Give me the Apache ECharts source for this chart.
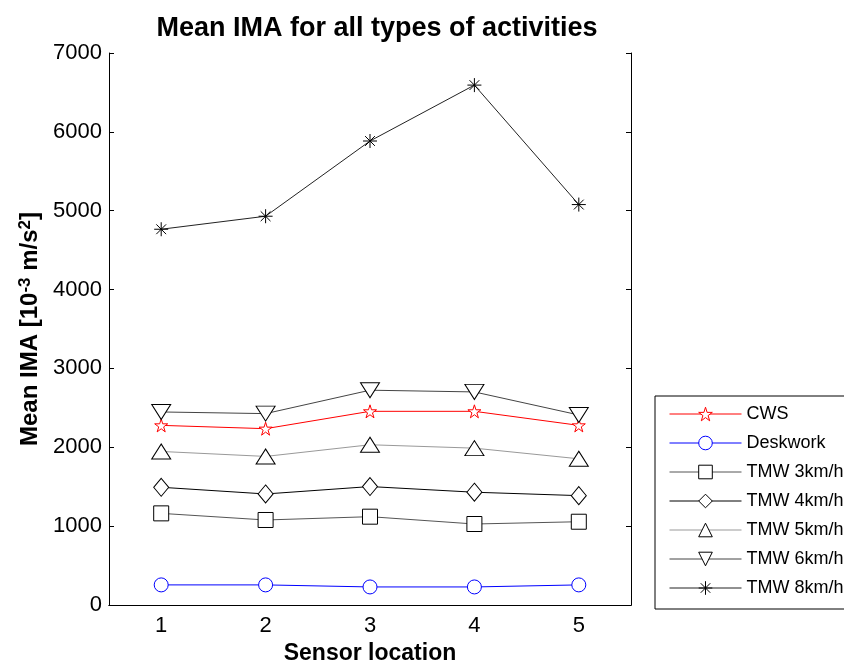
<!DOCTYPE html>
<html>
<head>
<meta charset="utf-8">
<script src="https://cdn.jsdelivr.net/npm/echarts@6/dist/echarts.min.js"></script>
<style>
  html, body { margin: 0; padding: 0; background: #fff; }
  #main { width: 844px; height: 663px; }
</style>
</head>
<body>
<div id="main"></div>
<script>
// sensor locations on the x axis
var locations = ['1', '2', '3', '4', '5'];

// mean IMA per activity
var cws      = [2278, 2236, 2456, 2456, 2278];
var deskwork = [255, 255, 229, 229, 255];
var tmw3     = [1162, 1078, 1120, 1027, 1056];
var tmw4     = [1493, 1408, 1502, 1430, 1387];
var tmw5     = [1947, 1884, 2032, 1989, 1854];
var tmw6     = [2448, 2427, 2724, 2702, 2410];
var tmw8     = [4765, 4930, 5884, 6593, 5078];

var yTicks = [0, 1000, 2000, 3000, 4000, 5000, 6000, 7000];

var font = 'Liberation Sans, Arial, sans-serif';

// marker shapes (matlab style)
var starPath = 'path://M50,0 L61.2,34.6 L97.6,34.5 L68.1,55.9 L79.4,90.5 L50,69 L20.6,90.5 L31.9,55.9 L2.4,34.5 L38.8,34.6 Z';
var downTri = 'path://M0,0 L100,0 L50,87 Z';
var asterisk = 'path://M50,0 L50,100 M0,50 L100,50 M15,15 L85,85 M85,15 L15,85';

function mkSeries(name, data, lineColor, markColor, symbol, size) {
    return {
        name: name,
        type: 'line',
        data: data,
        symbol: symbol,
        symbolSize: size,
        showAllSymbol: true,
        lineStyle: { color: lineColor, width: 1 },
        itemStyle: { color: '#fff', borderColor: markColor, borderWidth: 1 },
        emphasis: { disabled: true },
        z: 3
    };
}

var series = [
    mkSeries('CWS', cws, '#ff0000', '#ff0000', starPath, 13),
    mkSeries('Deskwork', deskwork, '#0000ff', '#0000ff', 'circle', 14),
    mkSeries('TMW 3km/h', tmw3, '#555', '#000', 'rect', 15),
    mkSeries('TMW 4km/h', tmw4, '#000', '#000', 'diamond', [15, 18]),
    mkSeries('TMW 5km/h', tmw5, '#999', '#000', 'triangle', [19, 15]),
    mkSeries('TMW 6km/h', tmw6, '#444', '#000', downTri, [19, 15]),
    mkSeries('TMW 8km/h', tmw8, '#222', '#000', asterisk, 14)
];
series[6].itemStyle = { color: '#000', borderColor: '#000', borderWidth: 1 };

var myChart = echarts.init(document.getElementById('main'));

var option = {
    animation: false,
    backgroundColor: '#fff',
    title: {
        text: 'Mean IMA for all types of activities',
        left: 372,
        top: 10,
        textAlign: 'center',
        textStyle: { fontFamily: font, fontSize: 27, fontWeight: 'bold', color: '#000' }
    },
    legend: {
        orient: 'vertical',
        left: 655,
        top: 396,
        padding: [9, 40, 12, 14],
        itemWidth: 72,
        itemHeight: 17,
        itemGap: 11,
        borderColor: '#000',
        borderWidth: 1,
        backgroundColor: '#fff',
        selectedMode: false,
        lineStyle: { width: 1 },
        itemStyle: { borderWidth: 1 },
        textStyle: { fontFamily: font, fontSize: 18, color: '#000' },
        data: series.map(function (s) { return s.name; })
    },
    grid: { left: 109, right: 213, top: 53, bottom: 58, containLabel: false, outerBoundsMode: 'none' },
    xAxis: [{
        type: 'category',
        data: locations,
        boundaryGap: true,
        name: 'Sensor location',
        nameLocation: 'middle',
        nameGap: 35,
        nameTextStyle: { fontFamily: font, fontSize: 23, fontWeight: 'bold', color: '#000' },
        axisLine: { lineStyle: { color: '#000', width: 1 } },
        axisTick: { inside: true, alignWithLabel: true, length: 5, lineStyle: { color: '#000' } },
        axisLabel: { fontFamily: font, fontSize: 22, color: '#000', margin: 10 },
        splitLine: { show: false }
    }, {
        type: 'category',
        data: locations,
        position: 'top',
        boundaryGap: true,
        axisLine: { lineStyle: { color: '#000', width: 1 } },
        axisTick: { inside: true, alignWithLabel: true, length: 5, lineStyle: { color: '#000' } },
        axisLabel: { show: false },
        splitLine: { show: false }
    }],
    yAxis: [{
        type: 'value',
        min: 0,
        max: 7000,
        interval: 1000,
        name: 'Mean IMA [10{sup|-3} m/s{sup|2}]',
        nameLocation: 'middle',
        nameGap: 64,
        nameTextStyle: {
            fontFamily: font, fontSize: 24, fontWeight: 'bold', color: '#000',
            rich: {
                sup: { fontFamily: font, fontSize: 17, fontWeight: 'bold', color: '#000', verticalAlign: 'top', padding: [0, 0, 10, 0] }
            }
        },
        axisLine: { show: true, lineStyle: { color: '#000', width: 1 } },
        axisTick: { show: true, inside: true, length: 5, lineStyle: { color: '#000' } },
        axisLabel: {
            fontFamily: font, fontSize: 22, color: '#000', margin: 7,
            formatter: function (v) { return yTicks.indexOf(v) >= 0 ? String(v) : ''; }
        },
        splitLine: { show: false }
    }, {
        type: 'value',
        position: 'right',
        min: 0,
        max: 7000,
        interval: 1000,
        axisLine: { show: true, lineStyle: { color: '#000', width: 1 } },
        axisTick: { show: true, inside: true, length: 5, lineStyle: { color: '#000' } },
        axisLabel: { show: false },
        splitLine: { show: false }
    }],
    series: series
};

myChart.setOption(option);
</script>
</body>
</html>
